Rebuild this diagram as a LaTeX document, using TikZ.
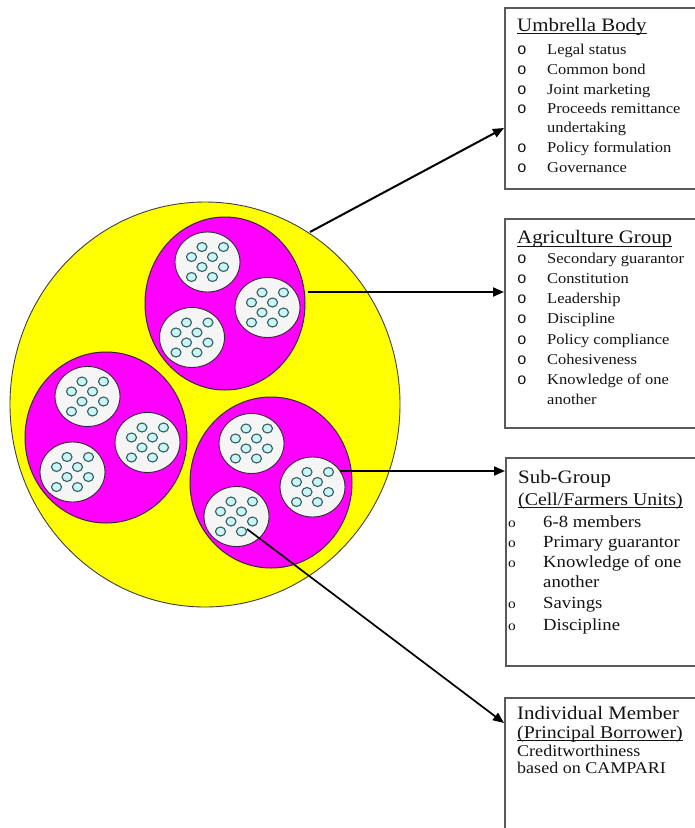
\documentclass[tikz,border=0pt]{standalone}
\usepackage{fontspec}
\setmainfont{Liberation Serif}[FakeStretch=1.1]
\newfontfamily\bulfont{Liberation Mono}
\usetikzlibrary{arrows.meta}
\definecolor{yel}{HTML}{FFFF00}
\definecolor{mag}{HTML}{FF00FF}
\definecolor{cellfill}{HTML}{F5F5F5}
\definecolor{dotfill}{HTML}{CCF5F5}
\definecolor{dotline}{HTML}{2F5F62}
\definecolor{rim}{HTML}{3A2438}
\definecolor{boxline}{HTML}{5A5A5A}
\definecolor{ink}{HTML}{141414}
\tikzset{
  cell/.pic={
    \draw[rim, line width=0.9pt, fill=cellfill] (0,0) ellipse [x radius=32.5pt, y radius=30pt];
    \foreach \dx/\dy in {-5.5/-15,16/-15,-16/-5,5/-5,-5.5/5,16/5,-16/15,5/15}
      \draw[dotline, line width=1.1pt, fill=dotfill] (\dx,\dy) ellipse [x radius=5pt, y radius=4.5pt];
  },
  group/.style={draw=rim, line width=1pt, fill=mag},
  boxstyle/.style={draw=boxline, line width=1.6pt, fill=white, anchor=north west, inner sep=0pt},
  lbl/.style={anchor=base west, inner sep=0pt, text=ink, font=\fontsize{15}{18}\selectfont},
  lblb/.style={anchor=base west, inner sep=0pt, text=ink, font=\fontsize{17}{20}\selectfont},
  ttl/.style={anchor=base west, inner sep=0pt, text=ink, font=\fontsize{19}{22}\selectfont},
  sttl/.style={anchor=base west, inner sep=0pt, text=ink, font=\fontsize{18}{21}\selectfont},
  smalltxt/.style={anchor=base west, inner sep=0pt, text=ink, font=\fontsize{16.4}{19}\selectfont},
  bul/.style={anchor=base, inner sep=0pt, text=ink, font=\bulfont\fontsize{16}{18}\selectfont},
  bulb/.style={anchor=base, inner sep=0pt, text=ink, font=\fontsize{14}{16}\selectfont},
  uline/.style={ink, line width=0.9pt},
  arr/.style={line width=2pt, black, -{Triangle[length=11pt,width=9pt]}},
}
\begin{document}
\begin{tikzpicture}[x=1pt,y=-1pt]
\useasboundingbox (0,0) rectangle (695,828);
\clip (0,0) rectangle (695,828);
\fill[white] (0,0) rectangle (695,828);

% main circle
\draw[draw=black!75, line width=0.9pt, fill=yel] (205,404.5) ellipse [x radius=195pt, y radius=202.5pt];

% groups
\draw[group] (225,303.5) ellipse [x radius=80pt, y radius=86.5pt];
\draw[group] (106,437.5) ellipse [x radius=81pt, y radius=85.5pt];
\draw[group] (271,482.5) ellipse [x radius=81pt, y radius=85.5pt];

% cells
\pic at (207.5,262) {cell};
\pic at (267.5,307.5) {cell};
\pic at (192,337.5) {cell};
\pic at (87.5,396.5) {cell};
\pic at (147.5,442.5) {cell};
\pic at (72.5,472) {cell};
\pic at (251.5,443.5) {cell};
\pic at (312.5,487) {cell};
\pic at (236.5,516.5) {cell};

% boxes
\node[boxstyle, minimum width=200pt, minimum height=181pt] (ub) at (504,7) {};
\node[boxstyle, minimum width=200pt, minimum height=209pt] (ag) at (504,218) {};
\node[boxstyle, minimum width=200pt, minimum height=208pt] (sg) at (505,457) {};
\node[boxstyle, minimum width=200pt, minimum height=150pt] (im) at (504,697) {};

% box 1 text
\node[ttl] (u0) at (517,31) {Umbrella Body};
\draw[uline] ([yshift=-2.5pt]u0.base west) -- ([yshift=-2.5pt]u0.base east);
\node[bul] (ub1) at (522,54) {o};   \node[lbl] (u1) at (547,54) {Legal status};
\node[bul] (ub2) at (522,74) {o};   \node[lbl] (u2) at (547,74) {Common bond};
\node[bul] (ub3) at (522,94) {o};   \node[lbl] (u3) at (547,94) {Joint marketing};
\node[bul] (ub4) at (522,113.5) {o};\node[lbl] (u4) at (547,113.5) {Proceeds remittance};
\node[lbl] (u5) at (547,132) {undertaking};
\node[bul] (ub6) at (522,152) {o};  \node[lbl] (u6) at (547,152) {Policy formulation};
\node[bul] (ub7) at (522,172) {o};  \node[lbl] (u7) at (547,172) {Governance};

% box 2 text
\node[ttl] (a0) at (517,243) {Agriculture Group};
\draw[uline] ([yshift=-3pt]a0.base west) -- ([yshift=-3pt]a0.base east);
\node[bul] (ab1) at (522,263) {o};  \node[lbl] (a1) at (547,263) {Secondary guarantor};
\node[bul] (ab2) at (522,283) {o};  \node[lbl] (a2) at (547,283) {Constitution};
\node[bul] (ab3) at (522,303.5) {o};\node[lbl] (a3) at (547,303.5) {Leadership};
\node[bul] (ab4) at (522,323.5) {o};\node[lbl] (a4) at (547,323.5) {Discipline};
\node[bul] (ab5) at (522,344) {o};  \node[lbl] (a5) at (547,344) {Policy compliance};
\node[bul] (ab6) at (522,364) {o};  \node[lbl] (a6) at (547,364) {Cohesiveness};
\node[bul] (ab7) at (522,384) {o};  \node[lbl] (a7) at (547,384) {Knowledge of one};
\node[lbl] (a8) at (547,404) {another};

% box 3 text
\node[ttl] (s0) at (518,483) {Sub-Group};
\node[sttl] (s0b) at (518,505) {(Cell/Farmers Units)};
\draw[uline] ([yshift=-2.5pt]s0b.base west) -- ([yshift=-2.5pt]s0b.base east);
\node[bulb] (sb1) at (512,527) {o}; \node[lblb] (s1) at (543,527) {6-8 members};
\node[bulb] (sb2) at (512,547) {o}; \node[lblb] (s2) at (543,547) {Primary guarantor};
\node[bulb] (sb3) at (512,567) {o}; \node[lblb] (s3) at (543,567) {Knowledge of one};
\node[lblb] (s4) at (543,587.5) {another};
\node[bulb] (sb5) at (512,608) {o}; \node[lblb] (s5) at (543,608) {Savings};
\node[bulb] (sb6) at (512,630) {o}; \node[lblb] (s6) at (543,630) {Discipline};

% box 4 text
\node[ttl] (i0) at (517,719) {Individual Member};
\node[sttl] (i1) at (517,738) {(Principal Borrower)};
\draw[uline] ([yshift=-2.5pt]i1.base west) -- ([yshift=-2.5pt]i1.base east);
\node[smalltxt] (i2) at (517,756) {Creditworthiness};
\node[smalltxt] (i3) at (517,773.5) {based on CAMPARI};

% connectors
\coordinate (p1) at (310,232);
\coordinate (q1) at ([yshift=-121pt]ub.north west);
\coordinate (p2) at (308,292);
\coordinate (q2) at ([yshift=-74pt]ag.north west);
\coordinate (p3) at (340,471);
\coordinate (q3) at ([yshift=-14pt]sg.north west);
\coordinate (p4) at (247,529);
\coordinate (q4) at ([yshift=-26pt]im.north west);
\draw[arr] (p1) -- (q1);
\draw[arr] (p2) -- (q2);
\draw[arr] (p3) -- (q3);
\draw[arr, line width=1.7pt] (p4) -- (q4);
\end{tikzpicture}
\end{document}
